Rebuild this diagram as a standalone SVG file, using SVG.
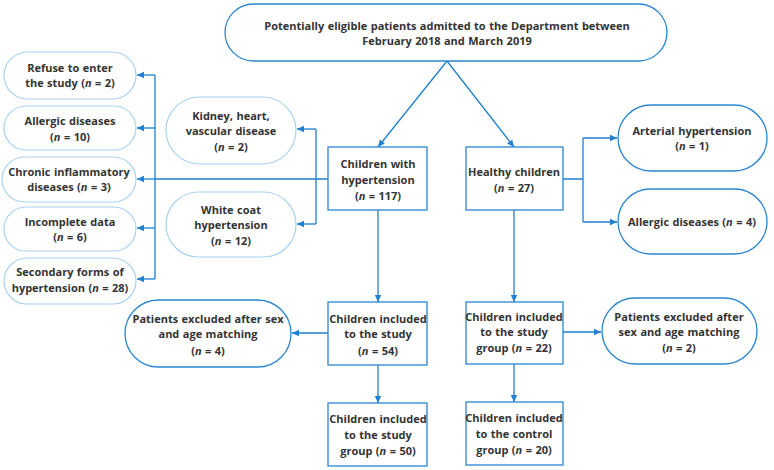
<svg xmlns="http://www.w3.org/2000/svg" width="774" height="470" viewBox="0 0 774 470">
<defs>
<marker id="ah" markerWidth="8" markerHeight="8" refX="7" refY="4" orient="auto" markerUnits="userSpaceOnUse">
<path d="M0,0.8 L7,4 L0,7.2 Z" fill="#1f7fd0"/>
</marker>
<style>
.box{fill:#fff;stroke:#2a85d0;stroke-width:1.3}
.sb{fill:#fff;stroke:#2a85d0;stroke-width:1.3}
.lb{fill:#fff;stroke:#a9d2f0;stroke-width:1.2}
.ln{fill:none;stroke:#1f7fd0;stroke-width:1.3}
.ar{fill:none;stroke:#1f7fd0;stroke-width:1.3;marker-end:url(#ah)}
text{font-family:"Open Sans","Noto Sans","DejaVu Sans",sans-serif;font-weight:bold;font-size:11px;word-spacing:0.6px;fill:#333;text-anchor:middle}
.i{font-style:italic}
</style>
</defs>
<rect width="774" height="470" fill="#fff"/>
<g id="connectors">
<path class="ar" d="M447,61 L378,147"/>
<path class="ar" d="M447,61 L514,147"/>
<path class="ln" d="M328,179 L155,179"/>
<path class="ar" d="M155,179 L137,179"/>
<path class="ln" d="M155,75 L155,279"/>
<path class="ar" d="M155,75 L137,75"/>
<path class="ar" d="M155,128 L137,128"/>
<path class="ar" d="M155,228 L137,228"/>
<path class="ar" d="M155,279 L137,279"/>
<path class="ln" d="M316,129 L316,224"/>
<path class="ar" d="M316,129 L297,129"/>
<path class="ar" d="M316,224 L297,224"/>
<path class="ln" d="M563,179 L583,179 M583,138 L583,222"/>
<path class="ar" d="M583,138 L617,138"/>
<path class="ar" d="M583,222 L617,222"/>
<path class="ar" d="M378,210 L378,302"/>
<path class="ar" d="M514,210 L514,302"/>
<path class="ar" d="M328,333 L292,333"/>
<path class="ar" d="M563,332 L601,332"/>
<path class="ar" d="M378,365 L378,403"/>
<path class="ar" d="M514,364 L514,402"/>
</g>
<g id="top">
<rect class="sb" x="225" y="4" width="442" height="57" rx="28.5"/>
<text x="447" y="30">Potentially eligible patients admitted to the Department between</text>
<text x="447" y="45">February 2018 and March 2019</text>
</g>
<g id="refuse">
<rect class="lb" x="4" y="52" width="132" height="47" rx="23.5"/>
<text x="70" y="72">Refuse to enter</text>
<text x="70" y="87">the study (<tspan class="i">n</tspan> = 2)</text>
</g>
<g id="allergic-left">
<rect class="lb" x="4" y="106" width="132" height="44" rx="22"/>
<text x="70" y="125">Allergic diseases</text>
<text x="70" y="141">(<tspan class="i">n</tspan> = 10)</text>
</g>
<g id="chronic">
<rect class="lb" x="2" y="157" width="134" height="45" rx="22.5"/>
<text x="69" y="176">Chronic inflammatory</text>
<text x="69" y="191">diseases (<tspan class="i">n</tspan> = 3)</text>
</g>
<g id="incomplete">
<rect class="lb" x="4" y="207" width="132" height="44" rx="22"/>
<text x="70" y="226">Incomplete data</text>
<text x="70" y="241">(<tspan class="i">n</tspan> = 6)</text>
</g>
<g id="secondary">
<rect class="lb" x="4" y="258" width="132" height="46" rx="23"/>
<text x="70" y="276">Secondary forms of</text>
<text x="70" y="292">hypertension (<tspan class="i">n</tspan> = 28)</text>
</g>
<g id="kidney">
<rect class="lb" x="166" y="97" width="130" height="67" rx="33.5"/>
<text x="231" y="120">Kidney, heart,</text>
<text x="231" y="135">vascular disease</text>
<text x="231" y="151">(<tspan class="i">n</tspan> = 2)</text>
</g>
<g id="whitecoat">
<rect class="lb" x="166" y="192" width="130" height="65" rx="32.5"/>
<text x="231" y="214">White coat</text>
<text x="231" y="229">hypertension</text>
<text x="231" y="245">(<tspan class="i">n</tspan> = 12)</text>
</g>
<g id="htn">
<rect class="box" x="328" y="147" width="99" height="63"/>
<text x="378" y="168">Children with</text>
<text x="378" y="184">hypertension</text>
<text x="378" y="200">(<tspan class="i">n</tspan> = 117)</text>
</g>
<g id="healthy">
<rect class="box" x="466" y="147" width="97" height="63"/>
<text x="514" y="176">Healthy children</text>
<text x="514" y="192">(<tspan class="i">n</tspan> = 27)</text>
</g>
<g id="arterial">
<rect class="sb" x="618" y="105" width="149" height="66" rx="33"/>
<text x="692" y="135">Arterial hypertension</text>
<text x="692" y="150">(<tspan class="i">n</tspan> = 1)</text>
</g>
<g id="allergic-right">
<rect class="sb" x="618" y="189" width="149" height="65" rx="32.5"/>
<text x="692" y="226">Allergic diseases (<tspan class="i">n</tspan> = 4)</text>
</g>
<g id="excl-left">
<rect class="sb" x="125" y="300" width="166" height="67" rx="33.5"/>
<text x="208" y="323">Patients excluded after sex</text>
<text x="208" y="338">and age matching</text>
<text x="208" y="355">(<tspan class="i">n</tspan> = 4)</text>
</g>
<g id="inc54">
<rect class="box" x="328" y="302" width="99" height="63"/>
<text x="378" y="323">Children included</text>
<text x="378" y="338">to the study</text>
<text x="378" y="355">(<tspan class="i">n</tspan> = 54)</text>
</g>
<g id="inc50">
<rect class="box" x="328" y="403" width="99" height="63"/>
<text x="378" y="423">Children included</text>
<text x="378" y="439">to the study</text>
<text x="378" y="455">group (<tspan class="i">n</tspan> = 50)</text>
</g>
<g id="inc22">
<rect class="box" x="466" y="302" width="97" height="62"/>
<text x="514" y="321">Children included</text>
<text x="514" y="336">to the study</text>
<text x="514" y="352">group (<tspan class="i">n</tspan> = 22)</text>
</g>
<g id="inc20">
<rect class="box" x="466" y="402" width="97" height="63"/>
<text x="514" y="422">Children included</text>
<text x="514" y="438">to the control</text>
<text x="514" y="454">group (<tspan class="i">n</tspan> = 20)</text>
</g>
<g id="excl-right">
<rect class="sb" x="602" y="298" width="155" height="66" rx="33"/>
<text x="679" y="321">Patients excluded after</text>
<text x="679" y="336">sex and age matching</text>
<text x="679" y="352">(<tspan class="i">n</tspan> = 2)</text>
</g>
</svg>
